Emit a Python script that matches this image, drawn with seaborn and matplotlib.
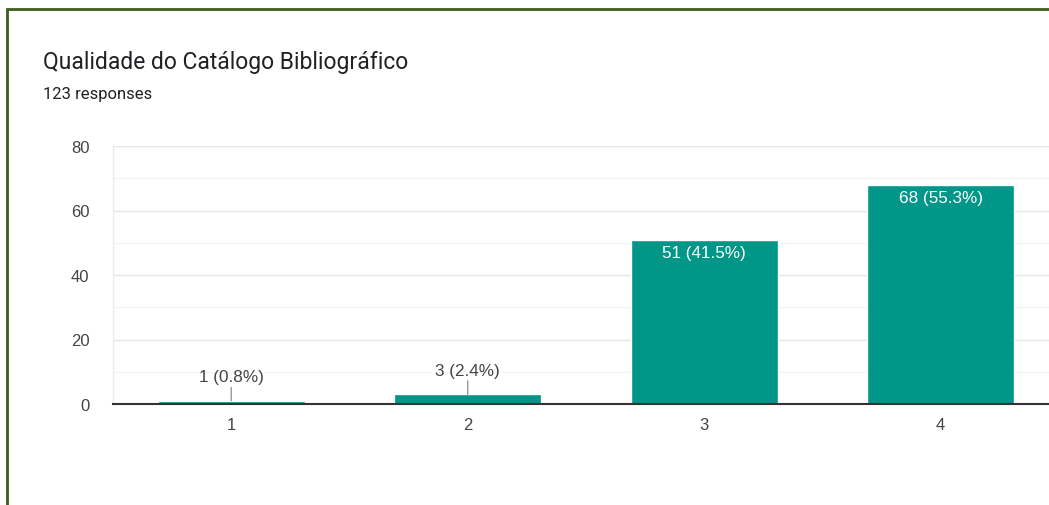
import matplotlib
matplotlib.use('Agg')
import matplotlib.pyplot as plt
import seaborn as sns
import pandas as pd
from matplotlib.patches import Rectangle

# chart data
categories = ['1', '2', '3', '4']
counts = [1, 3, 51, 68]
percents = [0.8, 2.4, 41.5, 55.3]
title = 'Qualidade do Catálogo Bibliográfico'
subtitle = '123 responses'

df = pd.DataFrame({'category': categories, 'count': counts})

sns.set_theme(style='white')
plt.rcParams['font.family'] = ['Liberation Sans', 'DejaVu Sans']

fig = plt.figure(figsize=(10.49, 5.06), dpi=100)
ax = fig.add_axes([113 / 1049, 1 - 405 / 506, 946 / 1049, 258 / 506])

sns.barplot(data=df, x='category', y='count', color='#009688', saturation=1,
            width=0.62, ax=ax)

ax.set_ylim(0, 80)
ax.set_xlim(-0.5, 3.5)
ax.set_yticks([0, 20, 40, 60, 80])
ax.set_yticks([10, 30, 50, 70], minor=True)
ax.grid(axis='y', which='major', color='#e6e6e6', linewidth=1)
ax.grid(axis='y', which='minor', color='#f4f4f4', linewidth=1)
ax.set_axisbelow(True)
ax.set_xlabel('')
ax.set_ylabel('')
ax.tick_params(axis='both', which='both', length=0, labelsize=12,
               labelcolor='#444444')
ax.tick_params(axis='x', pad=9)
ax.tick_params(axis='y', pad=17)
for s in ['top', 'right']:
    ax.spines[s].set_visible(False)
ax.spines['left'].set_color('#ececec')
ax.spines['left'].set_linewidth(1)
ax.spines['bottom'].set_color('#333333')
ax.spines['bottom'].set_linewidth(1.5)
ax.spines['bottom'].set_zorder(5)

# value labels
for i, (c, p) in enumerate(zip(counts, percents)):
    label = f'{c} ({p}%)'
    if c > 10:
        ax.annotate(label, (i, c), xytext=(0, -4), textcoords='offset points',
                    ha='center', va='top', color='white', fontsize=12.3)
    else:
        ax.annotate(label, (i, c), xytext=(0, 12), textcoords='offset points',
                    ha='center', va='bottom', color='#444444', fontsize=12.3,
                    arrowprops=dict(arrowstyle='-', color='#999999', lw=1,
                                    shrinkA=0, shrinkB=0))

fig.text(43 / 1049, 1 - 62 / 506, title, fontsize=16.5, color='#202124',
         family=['Roboto', 'DejaVu Sans'], va='center', ha='left')
fig.text(43 / 1049, 1 - 95 / 506, subtitle, fontsize=12, color='#202124',
         family=['Roboto', 'DejaVu Sans'], va='center', ha='left')

# frame around the card
fig.add_artist(Rectangle((7 / 1049, -0.1), 1.2, 1 - 10 / 506 + 0.1,
                         transform=fig.transFigure, fill=False,
                         edgecolor='#3d5c1e', linewidth=2))

fig.savefig('out.png', dpi=100)
